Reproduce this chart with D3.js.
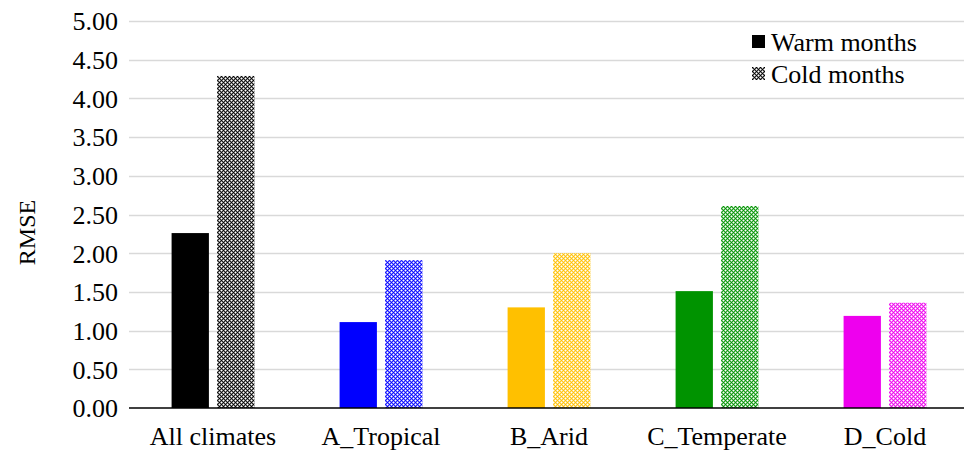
<!DOCTYPE html>
<html>
<head>
<meta charset="utf-8">
<script src="https://cdn.jsdelivr.net/npm/d3@7"></script>
<style>
  html, body { margin: 0; padding: 0; background: #fff; overflow: hidden; }
  svg { display: block; }
  svg text { font-family: "Liberation Serif", "Times New Roman", serif; fill: #000; }
</style>
</head>
<body>
<svg id="chart" width="964" height="451"></svg>
<script>
// Climate groups and RMSE per season
const categories = ["All climates", "A_Tropical", "B_Arid", "C_Temperate", "D_Cold"];
const warmValues = [2.26, 1.11, 1.30, 1.51, 1.19];
const coldValues = [4.29, 1.91, 2.00, 2.61, 1.36];
const groupColors = ["#000000", "#0000ff", "#ffc000", "#009300", "#ee00ee"];
const seriesNames = ["Warm months", "Cold months"];
const yTicks = [0, 0.5, 1, 1.5, 2, 2.5, 3, 3.5, 4, 4.5, 5];

const svg = d3.select("#chart");
const W = 964, H = 451;
const plot = { left: 129, right: 969, top: 21, bottom: 408 };

const x = d3.scaleBand().domain(categories).range([plot.left, plot.right]).paddingInner(0).paddingOuter(0);
const sub = d3.scaleBand().domain(seriesNames).range([0, x.bandwidth()]).paddingInner(0.18).paddingOuter(0.936);
const y = d3.scaleLinear().domain([0, 5]).range([plot.bottom, plot.top]);

// Checker-cross fill used for the cold-month bars
const defs = svg.append("defs");
function makePattern(id, color) {
  const p = defs.append("pattern").attr("id", id).attr("patternUnits", "userSpaceOnUse")
    .attr("width", 4).attr("height", 4);
  p.append("rect").attr("width", 4).attr("height", 4).attr("fill", "#fff");
  p.append("rect").attr("width", 4).attr("height", 4).attr("fill", color).attr("opacity", 0.45);
  [[0, 0], [2, 2]].forEach(([px, py]) =>
    p.append("rect").attr("x", px).attr("y", py).attr("width", 1).attr("height", 1).attr("fill", color));
  [[2, 0], [0, 2]].forEach(([px, py]) =>
    p.append("rect").attr("x", px).attr("y", py).attr("width", 1).attr("height", 1).attr("fill", "#fff"));
  [[1, 1], [3, 3], [1, 3], [3, 1]].forEach(([px, py]) =>
    p.append("rect").attr("x", px).attr("y", py).attr("width", 1).attr("height", 1).attr("fill", color).attr("opacity", 0.75));
}
groupColors.forEach((c, i) => makePattern("pat" + i, c));
makePattern("patLegend", "#000000");

// Horizontal gridlines
svg.append("g").selectAll("line").data(yTicks.filter(d => d > 0)).join("line")
  .attr("x1", plot.left).attr("x2", W)
  .attr("y1", d => Math.round(y(d)) + 0.5).attr("y2", d => Math.round(y(d)) + 0.5)
  .attr("stroke", "#d9d9d9").attr("stroke-width", 1.3);

// Y axis labels
const yAxis = d3.axisLeft(y).tickValues(yTicks).tickFormat(d3.format(".2f")).tickSize(0).tickPadding(11);
const gy = svg.append("g").attr("transform", `translate(${plot.left},0)`).call(yAxis);
gy.attr("font-family", null);
gy.select(".domain").remove();
gy.selectAll("text").attr("font-size", 26).attr("dy", "0.34em");

// Bars
const groups = svg.append("g").selectAll("g").data(categories).join("g")
  .attr("transform", d => `translate(${x(d)},0)`);
groups.append("rect")
  .attr("x", sub("Warm months")).attr("width", sub.bandwidth())
  .attr("y", (d, i) => y(warmValues[i])).attr("height", (d, i) => y(0) - y(warmValues[i]))
  .attr("fill", (d, i) => groupColors[i]);
groups.append("rect")
  .attr("x", sub("Cold months")).attr("width", sub.bandwidth())
  .attr("y", (d, i) => y(coldValues[i])).attr("height", (d, i) => y(0) - y(coldValues[i]))
  .attr("fill", (d, i) => `url(#pat${i})`);

// X axis
const xAxis = d3.axisBottom(x).tickSize(0).tickPadding(19);
const gx = svg.append("g").attr("transform", `translate(0,${plot.bottom})`).call(xAxis);
gx.attr("font-family", null);
gx.select(".domain").attr("stroke", "#000").attr("stroke-width", 1.5).attr("d", `M${plot.left},0H${W}`);
gx.selectAll("text").attr("font-size", 26);

// Y axis title
svg.append("text").attr("transform", `translate(35,${(plot.top + plot.bottom) / 2 + 18}) rotate(-90)`)
  .attr("text-anchor", "middle").attr("font-size", 24).text("RMSE");

// Legend
const legend = svg.append("g").attr("transform", "translate(752,35)");
const legendFills = ["#000000", "url(#patLegend)"];
seriesNames.forEach((name, i) => {
  const row = legend.append("g").attr("transform", `translate(0,${i * 32})`);
  row.append("rect").attr("x", 0).attr("y", 0).attr("width", 13).attr("height", 13).attr("fill", legendFills[i]);
  row.append("text").attr("x", 19).attr("y", 16).attr("font-size", 26).text(name);
});
</script>
</body>
</html>
